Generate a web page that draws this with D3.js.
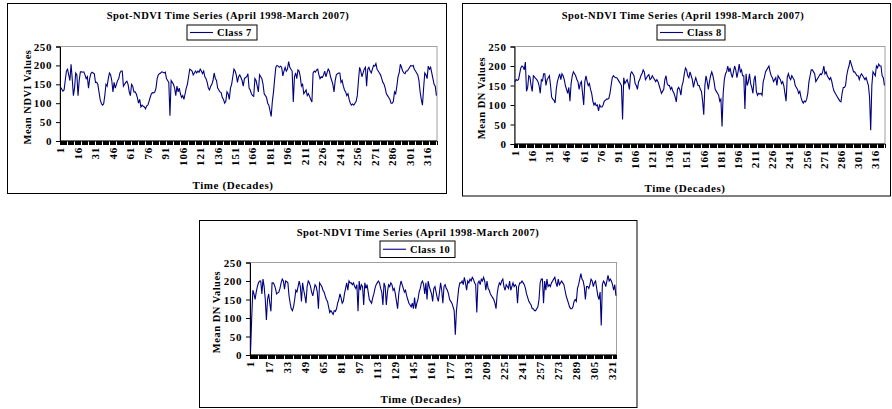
<html>
<script src="https://cdn.jsdelivr.net/npm/d3@7/dist/d3.min.js"></script>
<body style="margin:0; background:#fff;">
<div id="chart_area"></div>
<script>
// Mean values per decade (10-day period), April 1998 - March 2007
const class7 = [142,137,132,135,160,185,190,175,160,203,165,120,140,180,175,120,160,183,183,182,
  183,175,165,170,140,165,178,182,180,178,155,155,150,130,110,100,95,98,120,150,
  145,165,180,175,160,130,155,140,150,160,165,180,185,185,145,150,155,158,150,130,
  120,150,145,130,130,125,115,100,110,90,95,92,90,85,93,95,105,115,125,128,
  127,130,140,165,175,178,180,183,182,180,182,165,160,155,67,160,155,150,140,120,
  145,130,140,125,115,120,110,125,140,150,170,190,188,185,175,180,185,180,185,182,
  190,185,178,185,170,165,155,140,135,145,150,160,180,165,160,140,135,130,128,115,
  110,100,105,130,125,110,140,150,170,190,185,175,155,170,175,168,160,145,165,168,
  170,178,140,135,125,120,118,165,160,145,130,175,170,165,150,125,120,115,100,95,
  80,65,105,130,165,195,200,198,195,198,195,172,185,195,185,190,210,195,190,185,
  103,170,180,165,188,185,170,145,150,125,130,135,120,125,118,110,103,180,185,182,
  188,190,175,165,170,168,175,185,170,180,190,185,170,160,150,130,160,175,178,180,
  180,155,160,145,135,130,120,125,110,100,95,98,95,100,105,120,160,195,185,170,
  180,190,195,145,190,195,185,180,190,200,198,205,190,185,180,175,165,155,150,140,
  125,120,115,110,100,100,105,130,125,145,170,180,203,195,185,180,178,185,185,190,
  195,200,198,200,190,185,180,175,160,130,110,95,140,180,175,165,198,190,195,180,
  165,150,145,120];
const class8 = [160,165,163,165,180,195,200,198,190,210,135,145,175,172,150,135,175,172,168,165,
  160,150,130,165,162,180,180,150,165,170,175,150,120,115,112,105,140,160,170,180,
  165,180,175,165,150,140,130,145,110,155,175,185,180,175,165,160,140,155,160,130,
  100,160,175,160,150,155,140,130,110,100,105,98,100,85,100,95,95,100,110,112,
  115,115,117,130,150,170,175,172,170,170,165,160,155,150,63,170,155,160,165,155,
  140,180,185,180,175,155,150,140,160,165,175,180,190,185,165,170,175,178,165,168,
  175,170,165,160,165,160,150,140,130,135,140,165,175,155,150,150,140,145,135,130,
  120,108,140,145,140,125,150,160,180,195,190,175,170,185,175,165,145,160,170,160,
  150,150,140,135,110,75,150,175,160,140,160,175,185,175,160,140,135,130,125,110,
  115,45,130,165,180,185,200,185,195,180,170,185,200,190,170,185,205,185,190,175,
  175,90,180,150,160,180,155,145,130,165,175,135,125,130,128,130,125,160,170,185,
  190,195,200,185,175,170,160,165,170,150,175,170,165,155,160,150,130,110,170,180,
  170,165,175,170,165,150,145,140,130,135,120,110,105,110,108,115,130,160,175,190,
  190,185,180,160,165,170,175,180,178,185,200,180,185,175,170,165,170,160,145,135,
  130,125,120,115,110,108,130,145,145,150,175,190,200,215,205,195,185,185,180,175,
  175,165,175,180,175,170,165,170,160,150,120,35,150,185,180,175,200,195,205,200,
  200,175,170,150];
const class10 = [10,100,175,165,150,170,185,195,200,200,165,205,185,150,95,150,165,140,118,195,
  195,190,180,165,168,170,180,195,205,200,178,200,198,195,160,140,125,120,130,150,
  175,170,185,200,185,145,195,175,160,140,185,200,195,185,170,160,175,190,185,170,
  125,195,190,185,175,170,160,150,145,130,115,120,115,110,120,118,125,140,150,165,
  155,140,145,165,180,195,175,200,195,195,190,195,185,180,190,118,200,175,190,185,
  135,195,180,190,170,150,145,140,155,165,180,190,195,200,195,180,170,135,195,185,
  135,170,190,185,195,190,175,180,165,145,125,165,185,200,190,180,170,175,160,150,
  140,135,130,140,125,155,125,140,150,170,180,195,200,190,165,195,150,200,185,175,
  165,145,180,185,170,155,145,170,195,175,140,185,190,180,175,165,150,145,140,130,
  120,55,120,150,180,195,195,200,190,210,195,175,200,195,205,200,210,205,195,190,
  115,195,200,190,205,200,210,200,175,200,180,175,165,160,155,150,140,125,165,185,
  195,190,200,205,185,175,190,185,180,200,175,185,195,185,190,185,140,185,195,195,
  200,195,190,180,165,155,145,140,135,125,125,120,120,125,130,150,195,205,205,140,
  200,175,205,185,190,185,195,200,205,210,195,185,205,190,195,200,195,190,175,160,
  150,140,130,125,125,130,145,150,145,180,190,205,220,205,200,185,150,185,185,180,
  190,205,200,185,195,200,180,160,150,170,80,190,200,195,185,200,215,200,205,200,
  190,175,190,160];

const seriesNames = ["Class 7", "Class 8", "Class 10"];
const yTitles = ["Mean NDVI Values", "Mean DN Values", "Mean DN Values"];
const chartTitle = "Spot-NDVI Time Series (April 1998-March 2007)";
const xTitle = "Time (Decades)";
const yTicks = [0, 50, 100, 150, 200, 250];
const labelStep = [15, 15, 16];

// chart layout boxes (pixels)
const panels = [
  {box: [7.5, 3.5, 439, 190], plot: [60, 46.5, 437, 141], title: [228, 15], legend: [187, 25, 70, 15], xt: [233, 185], yt: [27, 97]},
  {box: [462.5, 3.5, 428, 192.5], plot: [514.5, 46.5, 885, 144], title: [683, 15], legend: [657, 25, 68, 15], xt: [685, 188], yt: [481, 98]},
  {box: [199.5, 220.5, 437.5, 187], plot: [250, 262.5, 616.5, 355], title: [418, 232], legend: [380, 241, 75, 16.5], xt: [421, 399], yt: [216, 312]}
];
const allData = [class7, class8, class10];

const font = "'Liberation Serif', 'Times New Roman', serif";
const lineColor = "#000080";

let svg = d3.select("#chart_area").append("svg")
  .attr("width", 892).attr("height", 409)
  .style("font-family", font).style("font-weight", "bold");

panels.forEach((p, k) => {
  let values = allData[k];
  let cats = d3.range(1, values.length + 1);
  let g = svg.append("g");

  g.append("rect")
    .attr("x", p.box[0]).attr("y", p.box[1])
    .attr("width", p.box[2]).attr("height", p.box[3])
    .attr("fill", "white").attr("stroke", "black");

  let x = d3.scaleBand().domain(cats).range([p.plot[0], p.plot[2]]);
  let y = d3.scaleLinear().domain([0, 250]).range([p.plot[3], p.plot[1]]);

  // plot area border (gray, like excel)
  g.append("rect")
    .attr("x", p.plot[0]).attr("y", p.plot[1])
    .attr("width", p.plot[2] - p.plot[0]).attr("height", p.plot[3] - p.plot[1])
    .attr("fill", "white").attr("stroke", "#a0a0a0");

  // y axis
  let yAxis = d3.axisLeft(y).tickValues(yTicks).tickSize(4).tickPadding(4);
  let ya = g.append("g").attr("transform", `translate(${p.plot[0]},0)`).call(yAxis);
  ya.select(".domain").attr("stroke", "black");
  ya.selectAll("text").style("font-family", font).style("font-weight", "bold")
    .style("font-size", "11px").style("letter-spacing", "0.6px").attr("fill", "black");

  // x axis: ticks between every category, labels every few decades
  let edges = cats.map(c => x(c)).concat([x.range()[1]]);
  g.selectAll(".xtick")
    .data(edges)
    .join("line")
    .attr("class", "xtick")
    .attr("x1", d => d).attr("x2", d => d)
    .attr("y1", p.plot[3]).attr("y2", p.plot[3] + 4)
    .attr("stroke", "black").attr("stroke-width", 1)
    .attr("shape-rendering", "crispEdges");
  g.append("line")
    .attr("x1", p.plot[0]).attr("x2", p.plot[2])
    .attr("y1", p.plot[3]).attr("y2", p.plot[3])
    .attr("stroke", "black");

  let labelCats = cats.filter(c => (c - 1) % labelStep[k] == 0);
  g.selectAll(".xlabel")
    .data(labelCats)
    .join("text")
    .attr("class", "xlabel")
    .attr("transform", d => `translate(${x(d) + x.bandwidth() / 2},${p.plot[3] + 6}) rotate(-90)`)
    .attr("text-anchor", "end")
    .attr("dy", "0.35em")
    .style("font-size", "11px")
    .style("letter-spacing", "0.8px")
    .text(d => d);

  // the series line
  let line = d3.line()
    .x((d, i) => x(cats[i]) + x.bandwidth() / 2)
    .y(d => y(d));
  g.append("path")
    .datum(values)
    .attr("d", line)
    .attr("fill", "none")
    .attr("stroke", lineColor)
    .attr("stroke-width", 1.1);

  // titles
  g.append("text")
    .attr("x", p.title[0]).attr("y", p.title[1])
    .attr("text-anchor", "middle").attr("dy", "0.35em")
    .style("font-size", "10.5px")
    .style("letter-spacing", "0.5px")
    .text(chartTitle);
  g.append("text")
    .attr("x", p.xt[0]).attr("y", p.xt[1])
    .attr("text-anchor", "middle").attr("dy", "0.35em")
    .style("font-size", "11px")
    .style("letter-spacing", "0.6px")
    .text(xTitle);
  g.append("text")
    .attr("transform", `translate(${p.yt[0]},${p.yt[1]}) rotate(-90)`)
    .attr("text-anchor", "middle").attr("dy", "0.35em")
    .style("font-size", "10.5px")
    .style("letter-spacing", "0.5px")
    .text(yTitles[k]);

  // legend
  let lg = g.append("g").attr("transform", `translate(${p.legend[0]},${p.legend[1]})`);
  lg.append("rect")
    .attr("width", p.legend[2]).attr("height", p.legend[3])
    .attr("fill", "white").attr("stroke", "black");
  lg.append("line")
    .attr("x1", 3).attr("x2", 26)
    .attr("y1", p.legend[3] / 2).attr("y2", p.legend[3] / 2)
    .attr("stroke", lineColor).attr("stroke-width", 1.1);
  lg.append("text")
    .attr("x", 30).attr("y", p.legend[3] / 2)
    .attr("dy", "0.35em")
    .style("font-size", "10.5px")
    .style("letter-spacing", "0.4px")
    .text(seriesNames[k]);
});
</script>
</body>
</html>
